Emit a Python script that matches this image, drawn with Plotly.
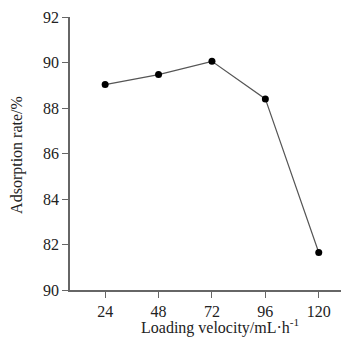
import plotly.graph_objects as go

velocity = [24, 48, 72, 96, 120]
adsorption = [89.03, 89.47, 90.05, 88.4, 81.65]
y_tickvals = [80, 82, 84, 86, 88, 90, 92]
y_ticktext = ["90", "82", "84", "86", "88", "90", "92"]
x_tickvals = [24, 48, 72, 96, 120]
x_title = "Loading velocity/mL·h<sup>-1</sup>"
y_title = "Adsorption rate/%"

fig = go.Figure()
fig.add_trace(go.Scatter(
    x=velocity, y=adsorption, mode="lines+markers",
    line=dict(color="#555555", width=1.2),
    marker=dict(color="black", size=7),
    showlegend=False, cliponaxis=False,
))

font = dict(family="Liberation Serif, Times New Roman, serif", size=16, color="#222222")
fig.update_layout(
    width=341, height=337,
    margin=dict(l=70, r=0, t=17, b=47),
    paper_bgcolor="white", plot_bgcolor="white",
    font=font,
)
fig.update_xaxes(
    range=[8.2, 130], tickvals=x_tickvals,
    showline=True, linecolor="#666666", linewidth=1.5,
    ticks="outside", ticklen=6, tickcolor="#666666", tickwidth=1.2,
    showgrid=False, zeroline=False, tickfont=font,
)
fig.update_yaxes(
    range=[80, 92], tickvals=y_tickvals, ticktext=y_ticktext,
    showline=True, linecolor="#666666", linewidth=1.5,
    ticks="outside", ticklen=6, tickcolor="#666666", tickwidth=1.2,
    showgrid=False, zeroline=False, tickfont=font,
)
fig.add_annotation(
    text=x_title, xref="x", yref="paper", x=75.6, y=-0.1355,
    xanchor="center", yanchor="middle", showarrow=False, font=font,
)
fig.add_annotation(
    text=y_title, xref="paper", yref="paper", x=-0.196, y=0.4945,
    xanchor="center", yanchor="middle", textangle=-90, showarrow=False, font=font,
)
fig.write_html("out.html")
